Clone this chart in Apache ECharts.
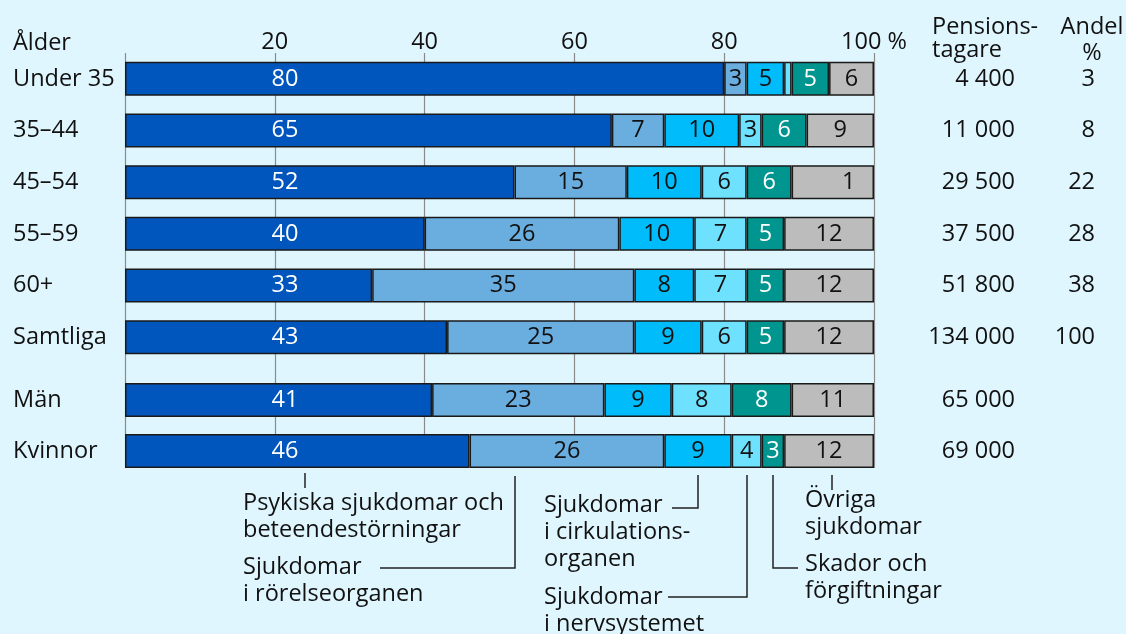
<!DOCTYPE html>
<html>
<head>
<meta charset="utf-8">
<script src="https://cdn.jsdelivr.net/npm/echarts@6/dist/echarts.min.js"></script>
<style>
  html, body { margin: 0; padding: 0; background: #dff6fe; }
  #chart { width: 1126px; height: 634px; }
</style>
</head>
<body>
<div id="chart"></div>
<script>
// rader (övre och undre grupp)
var alderGrupper = ['Under 35', '35–44', '45–54', '55–59', '60+', 'Samtliga'];
var konGrupper = ['Män', 'Kvinnor'];

// andel per diagnosgrupp, procent, i radordning (alder + kon)
var psykiska = [80, 65, 52, 40, 33, 43, 41, 46];
var rorelse = [3, 7, 15, 26, 35, 25, 23, 26];
var cirkulation = [5, 10, 10, 10, 8, 9, 9, 9];
var nervsystem = [1, 3, 6, 7, 7, 6, 8, 4];
var skador = [5, 6, 6, 5, 5, 5, 8, 3];
var ovriga = [6, 9, 11, 12, 12, 12, 11, 12];

// etiketter i staplarna ('' = ingen etikett)
var ovrigaEtikett = ['6', '9', '1', '12', '12', '12', '11', '12'];
var nervEtikett = ['', '3', '6', '7', '7', '6', '8', '4'];

var pensionstagare = ['4 400', '11 000', '29 500', '37 500', '51 800', '134 000', '65 000', '69 000'];
var andel = ['3', '8', '22', '28', '38', '100', '', ''];

var xTicks = [0, 20, 40, 60, 80, 100];

var FONT = 'Open Sans';
var FS = 23.5;
var FONTSTR = FS + 'px "Open Sans"';

var serier = [
    { name: 'Psykiska', data: psykiska, color: '#0056bd', text: '#ffffff' },
    { name: 'Rörelse', data: rorelse, color: '#6aaddf', text: '#111111' },
    { name: 'Cirkulation', data: cirkulation, color: '#00bcfb', text: '#111111' },
    { name: 'Nerv', data: nervsystem, color: '#6de1fd', text: '#111111', labels: nervEtikett },
    { name: 'Skador', data: skador, color: '#00958f', text: '#ffffff' },
    { name: 'Övriga', data: ovriga, color: '#bcbcbc', text: '#111111', labels: ovrigaEtikett }
];

var myChart = echarts.init(document.getElementById('chart'));

function buildSeries(gridIdx, from, to) {
    return serier.map(function (s, i) {
        var items = s.data.slice(from, to).map(function (v, k) {
            var item = { value: v };
            // ensiffrig etikett i bred stapel står till höger i originalet
            if (s.labels && s.labels[from + k].length == 1 && v > 9) {
                item.label = { offset: [16, 0] };
            }
            return item;
        });
        return {
            name: s.name,
            type: 'bar',
            stack: 'g' + gridIdx,
            xAxisIndex: gridIdx,
            yAxisIndex: gridIdx * 2,
            barWidth: 34,
            animation: false,
            data: items,
            itemStyle: { color: s.color, borderColor: '#1a1a1a', borderWidth: 1.5 },
            label: {
                show: true,
                position: i == 0 ? [160, '50%'] : 'inside',
                align: 'center',
                verticalAlign: 'middle',
                color: s.text,
                fontFamily: FONT,
                fontSize: FS,
                formatter: function (p) {
                    if (s.labels) return s.labels[from + p.dataIndex];
                    return String(p.value);
                }
            }
        };
    });
}

function rightLabels(from) {
    return {
        show: true,
        margin: 0,
        align: 'left',
        fontFamily: FONT,
        fontSize: FS,
        color: '#111',
        formatter: function (v, idx) {
            return '{a|' + pensionstagare[from + idx] + '}{b|' + (andel[from + idx] || ' ') + '}';
        },
        rich: {
            a: { width: 141, align: 'right', fontFamily: FONT, fontSize: FS, color: '#111' },
            b: { width: 80, align: 'right', fontFamily: FONT, fontSize: FS, color: '#111' }
        }
    };
}

var leftLabel = { show: true, margin: 112, align: 'left', fontFamily: FONT, fontSize: FS, color: '#111' };
var hiddenX = { type: 'value', min: 0, max: 100, show: false };
var lineStyle = { stroke: '#222', lineWidth: 1.5, fill: null };

var option = {
    backgroundColor: '#dff6fe',
    animation: false,
    grid: [
        { left: 125, width: 749, top: 53, height: 310 },
        { left: 125, width: 749, top: 374.5, height: 102 },
        { left: 125, width: 749, top: 53, height: 415 }
    ],
    xAxis: [
        Object.assign({ gridIndex: 0 }, hiddenX),
        Object.assign({ gridIndex: 1 }, hiddenX),
        {
            gridIndex: 2,
            type: 'value',
            position: 'top',
            min: xTicks[0],
            max: xTicks[xTicks.length - 1],
            interval: 20,
            axisLine: { show: false },
            axisTick: { show: false },
            axisLabel: {
                margin: -1,
                fontFamily: FONT,
                fontSize: FS,
                color: '#111',
                formatter: function (v) {
                    if (v == 0) return '';
                    if (v == 100) return '100 %';
                    return String(v);
                }
            },
            splitLine: { show: true, lineStyle: { color: '#8a8a8a', width: 1.2 } },
            z: 0
        }
    ],
    yAxis: [
        { gridIndex: 0, type: 'category', inverse: true, data: alderGrupper,
          axisLine: { show: false }, axisTick: { show: false }, axisLabel: leftLabel },
        { gridIndex: 0, type: 'category', inverse: true, data: alderGrupper, position: 'right',
          axisLine: { show: false }, axisTick: { show: false }, axisLabel: rightLabels(0) },
        { gridIndex: 1, type: 'category', inverse: true, data: konGrupper,
          axisLine: { show: false }, axisTick: { show: false }, axisLabel: leftLabel },
        { gridIndex: 1, type: 'category', inverse: true, data: konGrupper, position: 'right',
          axisLine: { show: false }, axisTick: { show: false }, axisLabel: rightLabels(6) },
        { gridIndex: 2, type: 'value', show: false }
    ],
    series: buildSeries(0, 0, 6).concat(buildSeries(1, 6, 8)),
    graphic: [
        { type: 'text', left: 13, top: 31, style: { text: 'Ålder', font: FONTSTR, fill: '#111' } },
        { type: 'text', left: 932, top: 15, style: { text: 'Pensions-\ntagare', font: FONTSTR, lineHeight: 23, fill: '#111' } },
        { type: 'text', x: 1092, y: 14, style: { text: 'Andel\n%', font: FONTSTR, lineHeight: 26, align: 'center', fill: '#111' } },

        { type: 'text', left: 243, top: 490, style: { text: 'Psykiska sjukdomar och\nbeteendestörningar', font: FONTSTR, lineHeight: 27, fill: '#111' } },
        { type: 'text', left: 243, top: 554, style: { text: 'Sjukdomar\ni rörelseorganen', font: FONTSTR, lineHeight: 27, fill: '#111' } },
        { type: 'text', left: 544, top: 492, style: { text: 'Sjukdomar\ni cirkulations-\norganen', font: FONTSTR, lineHeight: 27, fill: '#111' } },
        { type: 'text', left: 544, top: 584, style: { text: 'Sjukdomar\ni nervsystemet', font: FONTSTR, lineHeight: 27, fill: '#111' } },
        { type: 'text', left: 805, top: 487, style: { text: 'Övriga\nsjukdomar', font: FONTSTR, lineHeight: 27, fill: '#111' } },
        { type: 'text', left: 805, top: 551, style: { text: 'Skador och\nförgiftningar', font: FONTSTR, lineHeight: 27, fill: '#111' } },

        { type: 'polyline', shape: { points: [[305, 473], [305, 488]] }, style: lineStyle },
        { type: 'polyline', shape: { points: [[380, 568], [515, 568], [515, 476]] }, style: lineStyle },
        { type: 'polyline', shape: { points: [[672, 508], [698, 508], [698, 475]] }, style: lineStyle },
        { type: 'polyline', shape: { points: [[668, 597], [747, 597], [747, 475]] }, style: lineStyle },
        { type: 'polyline', shape: { points: [[832, 475], [832, 490]] }, style: lineStyle },
        { type: 'polyline', shape: { points: [[773, 475], [773, 568], [798, 568]] }, style: lineStyle }
    ]
};

myChart.setOption(option);
</script>
</body>
</html>
